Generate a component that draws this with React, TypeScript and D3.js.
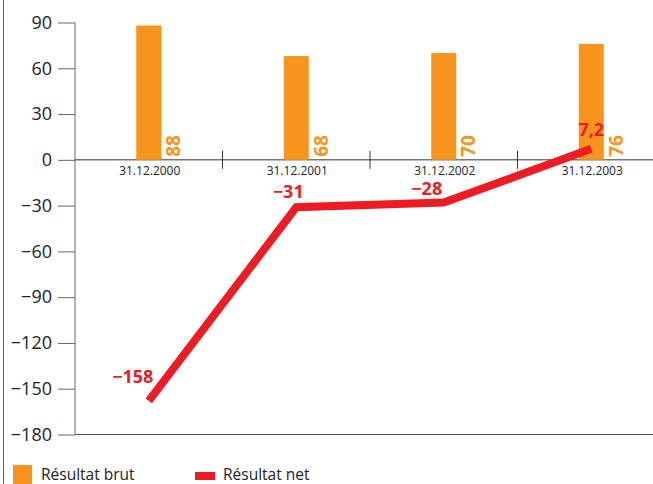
import React, { useEffect, useRef } from "react";
import * as d3 from "d3";

const categories = ["31.12.2000", "31.12.2001", "31.12.2002", "31.12.2003"];
const brutValues = [88, 68, 70, 76];
const netValues = [-158, -31, -28, 7.2];
const netLabels = ["\u2212158", "\u221231", "\u221228", "7,2"];
const yTicks = [90, 60, 30, 0, -30, -60, -90, -120, -150, -180];
const legendLabels = ["Résultat brut", "Résultat net"];

const ORANGE = "#F7941D";
const RED = "#ED1C24";
const FONT = "'Open Sans', 'Noto Sans', sans-serif";

export default function App() {
  const svgRef = useRef<SVGSVGElement>(null);

  useEffect(() => {
    const w = 653;
    const h = 484;
    const svg = d3.select(svgRef.current).attr("width", w).attr("height", h);
    svg.selectAll("*").remove();

    const left = 75;
    const right = 665;

    const x = d3.scaleBand().domain(categories).range([left, right]);
    const y = d3.scaleLinear().domain([-180, 90]).range([434.5, 22.5]);

    // red page rule on the left
    svg.append("line")
      .attr("x1", 3.5).attr("x2", 3.5).attr("y1", 0).attr("y2", h)
      .attr("stroke", "#e0262e").attr("stroke-width", 1);

    // y axis
    const yAxis = svg.append("g").attr("transform", `translate(${left},0)`)
      .call(d3.axisLeft(y).tickValues(yTicks).tickSize(17).tickPadding(6)
        .tickFormat((d) => {
          const v = d as number;
          return v < 0 ? "\u2212" + Math.abs(v) : String(v);
        }));
    yAxis.select(".domain").attr("stroke", "#666").attr("d", `M0,${y(90)}V${y(-180)}`);
    yAxis.selectAll(".tick line").attr("stroke", "#666");
    yAxis.selectAll(".tick text")
      .attr("font-family", FONT).attr("font-size", 18).attr("fill", "#222");

    // bottom line
    svg.append("line")
      .attr("x1", left).attr("x2", w).attr("y1", y(-180)).attr("y2", y(-180))
      .attr("stroke", "#555");

    // zero line
    svg.append("line")
      .attr("x1", left).attr("x2", w).attr("y1", y(0)).attr("y2", y(0))
      .attr("stroke", "#333");

    // category separators
    svg.selectAll(".sep")
      .data(categories.slice(1))
      .join("line")
      .attr("x1", (d) => x(d)!).attr("x2", (d) => x(d)!)
      .attr("y1", y(0) - 9).attr("y2", y(0) + 9)
      .attr("stroke", "#333");

    // category labels
    svg.selectAll(".cat")
      .data(categories)
      .join("text")
      .attr("x", (d) => x(d)! + x.bandwidth() / 2 + 1)
      .attr("y", y(0) + 15)
      .attr("text-anchor", "middle")
      .attr("font-family", FONT).attr("font-size", 12).attr("fill", "#222")
      .text((d) => d);

    // bars
    const barW = 25;
    svg.selectAll(".bar")
      .data(brutValues)
      .join("rect")
      .attr("x", (d, i) => x(categories[i])! + x.bandwidth() / 2 - barW / 2)
      .attr("y", (d) => y(d))
      .attr("width", barW)
      .attr("height", (d) => y(0) - y(d))
      .attr("fill", ORANGE);

    // bar value labels (rotated)
    svg.selectAll(".bval")
      .data(brutValues)
      .join("text")
      .attr("transform", (d, i) =>
        `translate(${x(categories[i])! + x.bandwidth() / 2 + barW / 2 + 19},${y(0) - 3}) rotate(-90)`)
      .attr("font-family", FONT).attr("font-size", 19).attr("font-weight", "bold")
      .attr("fill", ORANGE)
      .text((d) => d);

    // net line
    const line = d3.line<number>()
      .x((d, i) => x(categories[i])! + x.bandwidth() / 2)
      .y((d) => y(d));
    svg.append("path")
      .datum(netValues)
      .attr("d", line)
      .attr("fill", "none")
      .attr("stroke", RED)
      .attr("stroke-width", 8)
      .attr("stroke-linejoin", "miter");

    // net labels
    const labelOffsets = [[-16, -18], [-8, -9], [-17, -8], [0, -13]];
    svg.selectAll(".nval")
      .data(netValues)
      .join("text")
      .attr("x", (d, i) => x(categories[i])! + x.bandwidth() / 2 + labelOffsets[i][0])
      .attr("y", (d, i) => y(d) + labelOffsets[i][1])
      .attr("text-anchor", "middle")
      .attr("font-family", FONT).attr("font-size", 18).attr("font-weight", "bold")
      .attr("fill", RED)
      .text((d, i) => netLabels[i]);

    // legend
    const lg = svg.append("g");
    lg.append("rect").attr("x", 13).attr("y", 465).attr("width", 19).attr("height", 19).attr("fill", ORANGE);
    lg.append("text").attr("x", 41).attr("y", 480)
      .attr("font-family", FONT).attr("font-size", 15.5).attr("fill", "#222").text(legendLabels[0]);
    lg.append("rect").attr("x", 195).attr("y", 472).attr("width", 20).attr("height", 8).attr("fill", RED);
    lg.append("text").attr("x", 223).attr("y", 480)
      .attr("font-family", FONT).attr("font-size", 15.5).attr("fill", "#222").text(legendLabels[1]);
  }, []);

  return (
    <div>
      <svg ref={svgRef} style={{ position: "absolute", left: 0, top: 0 }}></svg>
    </div>
  );
}
